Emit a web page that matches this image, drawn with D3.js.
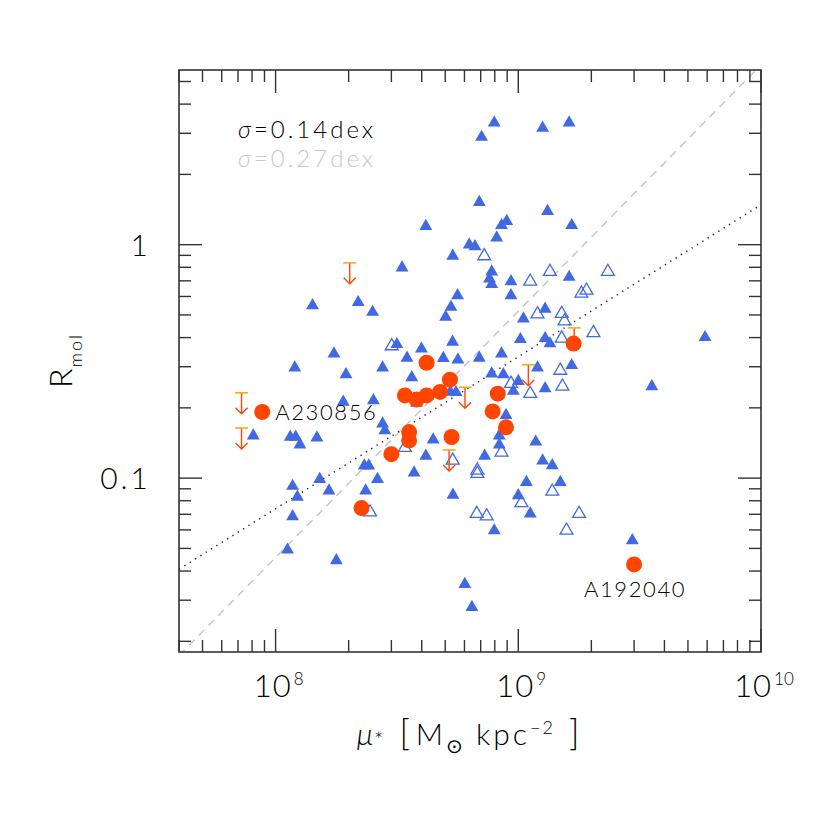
<!DOCTYPE html>
<html>
<head>
<meta charset="utf-8">
<script src="https://cdn.jsdelivr.net/npm/d3@7"></script>
<style>
  body { margin: 0; background: #fff; }
  text { font-family: "Lato", "DejaVu Sans", sans-serif; font-weight: 300; }
</style>
</head>
<body>
<div id="chart"></div>
<script>
// detections, mu_* [Msun/kpc2] vs R_mol
const filledTri = [
  [7.96e8,3.33],[7.06e8,2.89],[1.26e9,3.16],[1.62e9,3.33],[4.16e8,1.20],[6.91e8,1.52],[1.32e9,1.39],[1.66e9,1.21],[8.53e8,1.21],[8.96e8,1.26],
  [8.15e8,1.07],[6.28e8,1.00],[6.63e8,0.983],[5.37e8,0.894],[3.32e8,0.797],[7.77e8,0.766],[7.61e8,0.715],[7.77e8,0.676],[9.33e8,0.696],[1.62e9,0.726],
  [9.33e8,0.606],[5.62e8,0.606],[5.28e8,0.540],[5.02e8,0.490],[1.29e9,0.530],[1.05e9,0.482],[1.42e8,0.549],[2.19e8,0.566],[2.51e8,0.514],[1.02e9,0.393],
  [1.29e9,0.397],[1.35e9,0.377],[5.88e9,0.401],[8.53e8,0.341],[6.91e8,0.327],[3.16e8,0.374],[3.99e8,0.358],[5.36e8,0.383],[1.74e8,0.341],[3.48e8,0.327],
  [4.91e8,0.326],[5.64e8,0.321],[1.20e8,0.297],[1.95e8,0.278],[2.76e8,0.297],[3.64e8,0.270],[3.81e8,0.210],[1.90e8,0.212],[2.53e8,0.215],[2.76e8,0.171],
  [2.82e8,0.160],[5.25e8,0.234],[5.54e8,0.233],[1.15e8,0.150],[1.21e8,0.150],[1.26e8,0.139],[1.48e8,0.149],[4.46e8,0.146],[4.16e8,0.1245],[2.32e8,0.113],
  [2.42e8,0.113],[3.72e8,0.1055],[2.63e8,0.099],[1.52e8,0.099],[1.175e8,0.0924],[1.66e8,0.0883],[2.35e8,0.0883],[1.23e8,0.0831],[5.38e8,0.0847],[8.09e7,0.152],
  [1.175e8,0.0685],[1.12e8,0.0493],[1.78e8,0.0444],[6.02e8,0.0351],[6.44e8,0.0280],[1.20e9,0.297],[1.66e9,0.304],[7.77e8,0.280],[8.68e8,0.278],[1.00e9,0.260],
  [9.54e8,0.236],[1.29e9,0.242],[8.90e8,0.186],[8.35e8,0.152],[8.35e8,0.139],[1.18e9,0.143],[7.27e8,0.1245],[1.26e9,0.1187],[1.38e9,0.1133],[1.08e9,0.0961],
  [1.49e9,0.0961],[1.00e9,0.0843],[1.12e9,0.0704],[7.96e8,0.0597],[3.55e9,0.247],[2.95e9,0.0541]
];
const openTri = [
  [7.24e8,0.894],[1.12e9,0.696],[1.35e9,0.766],[2.34e9,0.766],[1.82e9,0.618],[1.91e9,0.637],[1.20e9,0.504],[1.51e9,0.506],[1.55e9,0.470],[2.04e9,0.419],
  [1.51e9,0.397],[3.01e8,0.368],[1.49e9,0.289],[9.33e8,0.254],[1.12e9,0.230],[1.52e9,0.247],[3.41e8,0.135],[5.37e8,0.119],[8.53e8,0.129],[6.78e8,0.108],
  [6.78e8,0.1045],[1.38e9,0.0877],[1.03e9,0.0783],[6.74e8,0.0704],[7.41e8,0.0687],[1.58e9,0.0597],[1.78e9,0.0704],[2.45e8,0.0715]
];
const redDots = [
  [4.19e8,0.312],[5.23e8,0.264],[3.41e8,0.226],[3.81e8,0.217],[4.19e8,0.226],[4.76e8,0.234],[3.55e8,0.1575],[3.55e8,0.145],[3.00e8,0.1267],[5.31e8,0.150],
  [2.26e8,0.0744],[1.69e9,0.377],[8.23e8,0.230],[7.84e8,0.193],[8.90e8,0.165],[3.00e9,0.0427],[8.81e7,0.192]
];
const upperLimits = [[2.02e8,0.836],[7.24e7,0.232],[7.24e7,0.164],[6.03e8,0.245],[5.19e8,0.132],[1.10e9,0.306],[1.70e9,0.440]];
const namedGals = [["A230856", 8.81e7, 0.192], ["A192040", 3.0e9, 0.0427]];
// fits: log R = a + b log mu
const fitDotted = [-6.339, 0.651];
const fitDashed = [-9.78, 1.055];
const scatterLabels = ["0.14dex", "0.27dex"];
const xTicks = [1e8, 1e9, 1e10];
const yTicks = [0.1, 1];

const W = 830, H = 830;
const m = {left: 179, right: 761, top: 70, bottom: 652};

const svg = d3.select("#chart").append("svg")
    .attr("width", W).attr("height", H);

const x = d3.scaleLog().domain([4e7, 1e10]).range([m.left, m.right]);
const y = d3.scaleLog().domain([0.018, 5.6]).range([m.bottom, m.top]);

svg.append("clipPath").attr("id", "clip")
  .append("rect").attr("x", m.left).attr("y", m.top)
    .attr("width", m.right - m.left).attr("height", m.bottom - m.top);

const plot = svg.append("g").attr("clip-path", "url(#clip)");

// fit lines
const fitLine = f => {
  const xs = x.domain();
  return d3.line()(xs.map(v => [x(v), y(Math.pow(10, f[0] + f[1] * Math.log10(v)))]));
};
plot.append("path").attr("d", fitLine(fitDashed))
    .attr("stroke", "#c4c4c4").attr("stroke-width", 1.4)
    .attr("stroke-dasharray", "8,6").attr("fill", "none");
plot.append("path").attr("d", fitLine(fitDotted))
    .attr("stroke", "#222").attr("stroke-width", 1.5)
    .attr("stroke-dasharray", "1.3,5").attr("fill", "none");

const tri = d3.symbol().type(d3.symbolTriangle).size(72);

plot.append("g").selectAll("path")
  .data(openTri)
  .join("path")
    .attr("d", tri)
    .attr("transform", d => `translate(${x(d[0])},${y(d[1])})`)
    .attr("fill", "none")
    .attr("stroke", "#4169e1")
    .attr("stroke-width", 1.3);

plot.append("g").selectAll("path")
  .data(filledTri)
  .join("path")
    .attr("d", tri)
    .attr("transform", d => `translate(${x(d[0])},${y(d[1])})`)
    .attr("fill", "#4169e1");

// upper limits
const lim = plot.append("g").selectAll("g")
  .data(upperLimits)
  .join("g")
    .attr("transform", d => `translate(${x(d[0])},${y(d[1])})`);
lim.append("path")
    .attr("d", "M0,0V21M-6,15L0,21L6,15")
    .attr("stroke", "#ff4500").attr("stroke-width", 1.4).attr("fill", "none");
lim.append("line")
    .attr("x1", -6.5).attr("x2", 6.5)
    .attr("stroke", "#ffa520").attr("stroke-width", 1.6);

plot.append("g").selectAll("circle")
  .data(redDots)
  .join("circle")
    .attr("cx", d => x(d[0]))
    .attr("cy", d => y(d[1]))
    .attr("r", 8)
    .attr("fill", "#ff4500");

// galaxy names
const nameG = svg.append("g").style("font-size", "22px").style("letter-spacing", "1.6px");
nameG.append("text")
    .attr("x", x(namedGals[0][1]) + 13)
    .attr("y", y(namedGals[0][2]) + 8)
    .text(namedGals[0][0]);
nameG.append("text")
    .attr("x", x(namedGals[1][1]) + 1)
    .attr("y", y(namedGals[1][2]) + 33)
    .attr("text-anchor", "middle")
    .text(namedGals[1][0]);

// scatter labels
const sig = svg.append("g").style("font-size", "24px").style("letter-spacing", "3px");
scatterLabels.forEach((s, i) => {
  const t = sig.append("text").attr("x", 238).attr("y", 138 + i * 29)
      .attr("fill", i === 0 ? "#000" : "#c8c8c8");
  t.append("tspan").style("font-style", "italic").text("σ");
  t.append("tspan").text("=" + s);
});

// frame and ticks
const axisCol = "#333";
svg.append("rect")
    .attr("x", m.left).attr("y", m.top)
    .attr("width", m.right - m.left).attr("height", m.bottom - m.top)
    .attr("fill", "none").attr("stroke", axisCol).attr("stroke-width", 1.6);

const xMinor = [];
for (let e = 7; e <= 9; e++) for (let k = 2; k <= 9; k++) {
  const v = k * Math.pow(10, e);
  if (v >= 4e7 && v <= 1e10) xMinor.push(v);
}
const yMinor = [];
for (let e = -2; e <= 0; e++) for (let k = 2; k <= 9; k++) {
  const v = k * Math.pow(10, e);
  if (v >= 0.018 && v <= 5.6) yMinor.push(v);
}
const tk = svg.append("g").attr("stroke", axisCol).attr("stroke-width", 1.4);
const xt = xMinor.map(v => [v, 12]).concat(xTicks.map(v => [v, 23]));
tk.append("g").selectAll("line").data(xt).join("line")
    .attr("x1", d => x(d[0])).attr("x2", d => x(d[0]))
    .attr("y1", m.bottom).attr("y2", d => m.bottom - d[1]);
tk.append("g").selectAll("line").data(xt).join("line")
    .attr("x1", d => x(d[0])).attr("x2", d => x(d[0]))
    .attr("y1", m.top).attr("y2", d => m.top + d[1]);
const yt = yMinor.map(v => [v, 12]).concat(yTicks.map(v => [v, 23]));
tk.append("g").selectAll("line").data(yt).join("line")
    .attr("y1", d => y(d[0])).attr("y2", d => y(d[0]))
    .attr("x1", m.left).attr("x2", d => m.left + d[1]);
tk.append("g").selectAll("line").data(yt).join("line")
    .attr("y1", d => y(d[0])).attr("y2", d => y(d[0]))
    .attr("x1", m.right).attr("x2", d => m.right - d[1]);

// tick labels
svg.append("g").selectAll("text")
  .data(yTicks)
  .join("text")
    .attr("x", 151)
    .attr("y", d => y(d) + 11)
    .attr("text-anchor", "end")
    .style("font-size", "30px")
    .style("letter-spacing", "3px")
    .text(d => d);

const xl = svg.append("g").selectAll("text")
  .data(xTicks)
  .join("text")
    .attr("x", d => x(d) + 3)
    .attr("y", 697)
    .attr("text-anchor", "middle")
    .style("font-size", "31px");
xl.append("tspan").style("letter-spacing", "1px").text("10");
xl.append("tspan").attr("dy", -12).attr("dx", 2).style("font-size", "17px").text(d => Math.round(Math.log10(d)));

// axis titles
const xTitle = svg.append("text")
    .attr("x", 468).attr("y", 745)
    .attr("text-anchor", "middle")
    .style("font-size", "30px");
xTitle.append("tspan").style("font-style", "italic").text("μ");
xTitle.append("tspan").attr("dy", 3).attr("dx", 1).style("font-size", "22px").text("*");
xTitle.append("tspan").attr("dy", -3).attr("dx", 16).style("font-size", "35px").text("[");
xTitle.append("tspan").attr("dx", 6).text("M");
xTitle.append("tspan").attr("dy", 8).attr("dx", 3).style("font-size", "20px").text("⊙");
xTitle.append("tspan").attr("dy", -8).attr("dx", 13).style("letter-spacing", "3px").text("kpc");
xTitle.append("tspan").attr("dy", -11).style("font-size", "18px").style("letter-spacing", "2px").text("−2");
xTitle.append("tspan").attr("dy", 11).attr("dx", 14).style("font-size", "35px").text("]");

const yTitle = svg.append("text")
    .attr("transform", "translate(72,388) rotate(-90)")
    .style("font-size", "32px");
yTitle.append("tspan").text("R");
yTitle.append("tspan").attr("dy", 10).attr("dx", 1).style("font-size", "18px").style("letter-spacing", "2px").text("mol");
</script>
</body>
</html>
